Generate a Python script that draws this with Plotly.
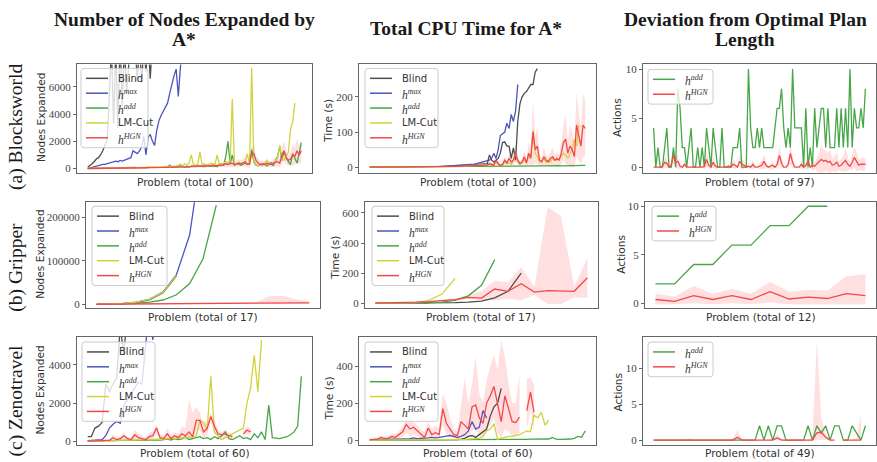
import plotly.graph_objects as go

W, H = 877, 462

# ======================= DATA =======================
# ---- Blocksworld (100 problems for nodes/time, 97 for plan length) ----
bw_nodes_blind = [100, 200, 350, 500, 700, 800, 1000, 1300, 1700, 2100,
                  5200, 9000, 3300, 8800, 3000, 9500, 4600, 9000, 5600, 9000,
                  9500, 8000, 9000, 6400, 9200, 6300, 9000, 7100, 9300, 6600, 9500]
bw_nodes_hmax = [0, 50, 80, 100, 150, 200, 250, 300, 300, 350,
                 400, 500, 500, 550, 500, 600, 550, 600, 650, 700,
                 800, 1300, 1200, 1100, 1300, 1600, 2400, 1000, 2300, 2500,
                 2000, 1700, 2800, 3500, 3900, 4200, 4500, 4800, 5500, 6200,
                 6800, 7300, 5300, 7500, 9000, 10000]
bw_nodes_hadd = [10, 15, 20, 20, 25, 30, 30, 35, 40, 40,
                 45, 40, 50, 50, 45, 55, 60, 50, 60, 70,
                 60, 70, 80, 70, 60, 80, 90, 70, 80, 100,
                 90, 80, 100, 120, 90, 100, 110, 130, 250, 100,
                 120, 100, 150, 220, 130, 110, 150, 120, 180, 140,
                 150, 200, 180, 170, 150, 250, 180, 160, 200, 190,
                 150, 250, 350, 250, 900, 2000, 300, 1000, 250, 300,
                 350, 250, 300, 400, 350, 300, 1400, 500, 250, 200,
                 300, 250, 350, 200, 300, 450, 200, 500, 900, 1600,
                 600, 1300, 800, 500, 300, 1100, 800, 400, 1100, 1900]
bw_nodes_lmcut = [5, 5, 10, 10, 15, 15, 20, 20, 20, 25,
                  25, 30, 30, 35, 35, 40, 40, 45, 50, 50,
                  55, 60, 60, 70, 70, 80, 80, 90, 90, 100,
                  100, 110, 110, 120, 130, 140, 150, 160, 170, 180,
                  150, 200, 250, 300, 200, 350, 250, 400, 1000, 300,
                  250, 300, 1200, 300, 350, 250, 300, 400, 350, 300,
                  1000, 350, 300, 400, 500, 450, 350, 5100, 400, 300,
                  450, 350, 400, 500, 1100, 300, 7400, 600, 300, 200,
                  300, 350, 400, 600, 350, 300, 400, 500, 800, 1700,
                  700, 600, 900, 1200, 2900, 3400, 4800]
bw_nodes_hgn = [5, 5, 10, 10, 10, 15, 15, 20, 20, 20,
                20, 25, 25, 30, 30, 30, 35, 35, 40, 40,
                40, 45, 45, 50, 50, 55, 55, 60, 60, 65,
                60, 70, 70, 75, 80, 80, 90, 90, 100, 95,
                100, 110, 100, 120, 130, 110, 140, 130, 150, 160,
                150, 170, 200, 160, 180, 200, 180, 220, 250, 200,
                230, 250, 220, 300, 350, 300, 400, 380, 300, 350,
                400, 350, 450, 500, 300, 350, 1200, 1100, 600, 400,
                300, 350, 300, 400, 350, 300, 400, 450, 500, 400,
                1000, 1300, 800, 600, 700, 1000, 900, 1300, 1000, 1300]
bw_nodes_hgn_std = [5, 5, 5, 5, 5, 10, 10, 10, 10, 10, 10, 10, 15, 15, 15, 15, 20, 20, 20, 20,
                    20, 20, 25, 25, 25, 25, 30, 30, 30, 30, 30, 35, 35, 35, 40, 40, 40, 45, 45, 45,
                    50, 50, 50, 60, 60, 60, 70, 70, 80, 80, 80, 90, 100, 90, 100, 110, 100, 120, 130, 110,
                    120, 150, 130, 200, 250, 200, 300, 250, 200, 250, 300, 250, 300, 350, 250, 300, 500, 450, 400, 300,
                    250, 250, 200, 300, 250, 200, 300, 350, 400, 300, 600, 700, 500, 400, 500, 800, 600, 900, 700, 800]

bw_time_blind = [0.1, 0.1, 0.1, 0.1, 0.1, 0.2, 0.2, 0.2, 0.2, 0.3,
                 0.3, 0.3, 0.4, 0.4, 0.5, 0.5, 0.6, 0.6, 0.7, 0.8,
                 0.8, 0.9, 1, 1, 1.1, 1.2, 1.3, 1.4, 1.5, 1.6,
                 1.7, 1.8, 2, 2, 2.2, 2.4, 2.6, 2.8, 3, 3.2,
                 3.5, 3.8, 4, 4.5, 5, 5.5, 6, 6.5, 7, 8,
                 8, 9, 10, 8, 10, 35, 20, 15, 20, 25,
                 40, 70, 72, 60, 60, 25, 55, 20, 130, 180,
                 200, 210, 215, 225, 235, 235, 270, 280]
bw_time_hmax = [0.1, 0.1, 0.1, 0.1, 0.1, 0.1, 0.1, 0.2, 0.2, 0.2,
                0.2, 0.2, 0.3, 0.3, 0.3, 0.4, 0.4, 0.5, 0.5, 0.6,
                0.6, 0.7, 0.8, 0.9, 1, 1, 1.2, 1.3, 1.5, 1.6,
                1.8, 2, 2.2, 2.5, 2.8, 3, 3.5, 4, 4.5, 5,
                5, 5.5, 6, 6.5, 7, 7.5, 8, 8, 9, 10,
                12, 14, 15, 17, 18, 20, 25, 40, 25, 50,
                90, 95, 100, 125, 110, 150, 130, 160, 235]
bw_time_hadd = [0.1, 0.1, 0.1, 0.1, 0.1, 0.1, 0.2, 0.2, 0.2, 0.2, 0.2, 0.3, 0.3, 0.3, 0.3, 0.4, 0.4, 0.4, 0.5, 0.5,
                0.5, 0.6, 0.6, 0.7, 0.7, 0.8, 0.8, 0.9, 1, 1, 1, 1.1, 1.2, 1.2, 1.3, 1.4, 1.5, 1.5, 1.6, 1.7,
                1.8, 1.9, 2, 2, 2.1, 2.2, 2.3, 2.4, 2.5, 2.5, 2.6, 2.7, 2.8, 2.8, 2.9, 3, 3, 3.1, 3.2, 3.3,
                3.3, 3.4, 3.5, 3, 3.6, 3.7, 3.5, 4, 3.6, 3.8, 3.5, 3.9, 4, 3.6, 3.8, 4, 3.7, 4.2, 3.8, 4,
                3.6, 4, 4.2, 3.8, 4, 3.7, 4.1, 4.3, 3.9, 4, 4.2, 3.8, 4.1, 4.5, 4, 4.2, 4.6, 4.2, 4.8, 5]
bw_time_lmcut = [0.1, 0.1, 0.1, 0.1, 0.1, 0.1, 0.1, 0.1, 0.2, 0.2, 0.2, 0.2, 0.2, 0.2, 0.3, 0.3, 0.3, 0.3, 0.3, 0.4,
                 0.4, 0.4, 0.5, 0.5, 0.5, 0.6, 0.6, 0.7, 0.7, 0.8, 0.8, 0.9, 1, 1, 1.1, 1.2, 1.3, 1.4, 1.5, 1.6,
                 1.8, 2, 2.2, 2.5, 3, 3.5, 4, 5, 6, 5, 6, 8, 7, 5, 6, 8, 7, 10, 12, 9,
                 6, 8, 15, 10, 12, 8, 20, 40, 15, 10, 12, 20, 15, 30, 35, 105, 40, 30, 15, 20,
                 25, 15, 20, 15, 25, 20, 20, 25, 30, 40, 35, 25, 40, 50, 80, 60, 120]
bw_time_hgn = [0.5, 0.5, 0.5, 0.5, 0.6, 0.6, 0.6, 0.7, 0.7, 0.7, 0.8, 0.8, 0.9, 0.9, 1, 1, 1, 1.1, 1.1, 1.2,
               1.2, 1.3, 1.3, 1.4, 1.4, 1.5, 1.5, 1.6, 1.7, 1.7, 1.8, 1.9, 2, 2, 2.1, 2.2, 2.3, 2.4, 2.5, 2.6,
               2.7, 2.8, 3, 3, 3.2, 3.4, 3.5, 3.6, 3.8, 4, 4, 5, 5, 4, 6, 10, 8, 6, 20, 10,
               5, 8, 20, 12, 25, 15, 20, 40, 20, 10, 15, 30, 12, 40, 25, 100, 50, 60, 20, 15,
               30, 20, 15, 25, 30, 20, 25, 20, 40, 70, 80, 40, 60, 50, 30, 120, 90, 60, 120, 110]
bw_time_hgn_std = [0.2, 0.2, 0.2, 0.2, 0.2, 0.3, 0.3, 0.3, 0.3, 0.3, 0.4, 0.4, 0.4, 0.4, 0.5, 0.5, 0.5, 0.5, 0.6, 0.6,
                   0.6, 0.7, 0.7, 0.7, 0.8, 0.8, 0.8, 0.9, 0.9, 1, 1, 1, 1.1, 1.1, 1.2, 1.2, 1.3, 1.3, 1.4, 1.4,
                   1.5, 1.5, 1.6, 1.7, 1.8, 1.9, 2, 2, 2.2, 2.5, 3, 3, 4, 3, 4, 6, 5, 4, 10, 6,
                   4, 6, 12, 8, 15, 10, 12, 25, 12, 8, 10, 20, 10, 30, 20, 90, 40, 50, 15, 12,
                   25, 15, 12, 20, 25, 15, 20, 15, 30, 50, 70, 35, 60, 50, 30, 90, 70, 50, 90, 80]

bw_act_hadd = [4, 0, 2, 0, 0, 2, 4, 0, 0, 2,
               0, 8, 6, 2, 2, 0, 2, 4, 0, 0,
               2, 0, 2, 0, 4, 2, 0, 4, 2, 0,
               0, 4, 0, 0, 0, 0, 2, 2, 2, 4,
               0, 0, 0, 10, 4, 2, 2, 4, 2, 4,
               2, 2, 2, 2, 2, 4, 6, 6, 8, 4,
               2, 4, 2, 10, 4, 4, 4, 4, 0, 6,
               0, 2, 0, 6, 2, 4, 6, 6, 2, 6,
               2, 2, 2, 6, 2, 6, 2, 6, 2, 10,
               2, 6, 4, 4, 6, 4, 8]
bw_act_hgn = [0, 0, 0, 0, 0.1, 0.5, 0.4, 0, 0.2, 1.2,
              0.5, 0.6, 0.1, 0, 0.3, 0, 0, 0, 0, 0,
              0, 0, 0, 0.1, 0.8, 0.2, 0, 0.5, 0.1, 0,
              0, 0, 0, 0, 0.1, 0, 0.3, 0.2, 0, 0.6,
              0.3, 0.2, 0, 0.1, 0, 0.3, 0, 0, 0.1, 0.2,
              0.6, 0.2, 0, 0.1, 0.2, 0, 0.3, 1.2, 0.4, 0,
              0, 0.3, 1.4, 0.5, 0, 0, 0, 0.3, 0, 0.2,
              0.6, 0, 0.2, 0.1, 0.3, 0.5, 0.8, 0.6, 0.7, 0.5,
              0.6, 0.2, 0.3, 0.5, 0.1, 0.2, 0.4, 0.7, 0.3, 0.1,
              0.5, 1.0, 0.6, 0.2, 0.3, 0.3, 0.3]
bw_act_hgn_std = [0, 0, 0, 0, 0.3, 0.5, 0.5, 0, 0.4, 0.8,
                  0.6, 0.7, 0.3, 0, 0.4, 0, 0, 0, 0, 0,
                  0, 0, 0, 0.3, 0.8, 0.4, 0, 0.6, 0.3, 0,
                  0, 0, 0, 0, 0.3, 0, 0.4, 0.4, 0, 0.6,
                  0.5, 0.4, 0, 0.3, 0, 0.5, 0, 0, 0.3, 0.4,
                  0.7, 0.4, 0, 0.3, 0.4, 0, 0.5, 0.9, 0.6, 0,
                  0, 0.5, 1.0, 0.7, 0, 0, 0, 0.5, 0, 0.4,
                  0.8, 0, 0.5, 0.3, 0.6, 1.0, 1.5, 1.2, 1.0, 1.0,
                  1.2, 0.6, 0.8, 1.0, 0.4, 0.6, 0.8, 1.2, 0.7, 0.3,
                  0.8, 1.0, 1.0, 0.5, 0.6, 0.7, 0.6]

# ---- Gripper (17 problems, 12 for plan length) ----
gr_nodes_blind = [100, 500, 1800, 4500, 11000, 27000, 65000]
gr_nodes_hmax = [100, 500, 2000, 5000, 12000, 29000, 68000, 160000, 370000]
gr_nodes_hadd = [50, 300, 1000, 2500, 5000, 10000, 22000, 48000, 105000, 228000]
gr_nodes_lmcut = [100, 500, 2000, 5000, 12000, 28000, 66000]
gr_nodes_hgn = [300, 500, 700, 900, 1000, 1200, 1400, 1500, 1700, 1800, 2000, 2200, 2000, 2500, 2800, 3000, 3500]
gr_nodes_hgn_lo = [100, 200, 300, 400, 500, 600, 700, 700, 800, 800, 900, 1000, 800, 1000, 1200, 1500, 2000]
gr_nodes_hgn_hi = [500, 800, 1100, 1400, 1500, 1800, 2100, 2300, 2600, 2800, 3200, 3700, 5000, 19000, 20000, 11000, 7000]

gr_time_blind = [1, 1, 1, 1.5, 2, 3, 5, 8, 15, 37, 80, 200]
gr_time_hmax = [1, 1, 1.5, 2, 3]
gr_time_hadd = [1, 1, 1.5, 2, 3, 8, 20, 50, 120, 290]
gr_time_lmcut = [1, 1.5, 2, 5, 20, 60, 165]
gr_time_hgn = [2, 3, 5, 8, 12, 18, 25, 40, 35, 95, 80, 130, 75, 85, 82, 80, 170]
gr_time_hgn_lo = [1, 2, 4, 6, 9, 14, 20, 30, 20, 20, 30, 20, 55, -5, -5, 40, 35]
gr_time_hgn_hi = [3, 4, 6, 10, 16, 24, 32, 55, 80, 150, 140, 240, 110, 640, 580, 110, 300]

gr_act_hadd = [2, 2, 4, 4, 6, 6, 8, 8, 10, 10]
gr_act_hgn = [0.4, 0.2, 0.8, 0.4, 0.8, 0.4, 1.2, 0.45, 0.65, 0.5, 1.0, 0.8]
gr_act_hgn_lo = [-0.1, -0.1, 0, -0.1, 0, -0.1, 0.1, -0.1, -0.1, -0.1, -0.1, -0.1]
gr_act_hgn_hi = [1.0, 0.7, 1.8, 1.0, 1.5, 1.0, 2.2, 1.2, 1.4, 1.3, 2.8, 3.0]

# ---- Zenotravel (60 problems, 49 for plan length) ----
zt_nodes_blind = [250, 250, 700, 800, 1000, 3000, 2600, 3000, 3300, 6000, 4500, 7000]
zt_nodes_hmax = [50, 60, 70, 80, 100, 300, 700, 900, 1050, 950,
                 1900, 2200, 2500, 2800, 3100, 3000, 5600, 7000, 5300, 8000]
zt_nodes_hadd = [20, 20, 30, 30, 30, 40, 40, 50, 50, 60,
                 60, 50, 70, 60, 80, 70, 60, 90, 80, 100,
                 70, 100, 120, 80, 150, 100, 130, 250, 100, 150,
                 200, 250, 150, 200, 100, 250, 150, 300, 500, 150,
                 100, 200, 300, 150, 200, 100, 400, 200, 500, 100,
                 1900, 200, 180, 150, 200, 250, 350, 500, 800, 3400]
zt_nodes_lmcut = [20, 20, 30, 30, 40, 40, 50, 50, 60, 60,
                  70, 70, 80, 80, 90, 90, 100, 100, 110, 120,
                  120, 130, 140, 150, 160, 170, 180, 200, 250, 220,
                  300, 1100, 1000, 600, 3400, 500, 300, 100, 200, 300,
                  400, 500, 600, 700, 2000, 2800, 4500, 2600, 5300]
zt_nodes_hgn = [20, 20, 30, 40, 50, 60, 60, 200, 100, 150,
                300, 150, 100, 350, 200, 150, 100, 250, 300, 700,
                200, 150, 400, 150, 300, 200, 400, 300, 500, 250,
                1100, 1100, 500, 700, 1300, 800, 400, 350, 400, 300,
                250, None, None, 400, 600, 500]
zt_nodes_hgn_lo = [10, 10, 10, 20, 20, 20, 20, 50, 20, 50,
                   100, 50, 20, 100, 50, 50, 20, 50, 100, 400,
                   50, 50, 100, 50, 100, 50, 100, 50, 100, 50,
                   500, 600, 200, 300, 1000, 400, 200, 200, 200, 150,
                   100, None, None, 200, 400, 300]
zt_nodes_hgn_hi = [30, 30, 50, 60, 80, 100, 100, 400, 200, 250,
                   500, 250, 200, 600, 400, 300, 200, 500, 500, 900,
                   350, 300, 700, 300, 500, 400, 800, 700, 2200, 1500,
                   1800, 1500, 900, 1100, 1500, 1200, 600, 500, 600, 450,
                   400, None, None, 600, 800, 700]

zt_time_blind = [0.5, 0.5, 0.6, 0.6, 0.7, 0.8, 0.8, 0.9, 1, 1,
                 1.1, 1.2, 1.3, 1.4, 1.5, 1.6, 1.8, 2, 2.2, 2.4,
                 2.6, 2.8, 3, 3, 3.5, 5, 10, 20, 25, 15,
                 30, 45, 60, 130, 180, 200, 280]
zt_time_hmax = [2, 2, 3, 3, 3, 4, 4, 5, 5, 6,
                6, 8, 12, 8, 8, 10, 12, 15, 12, 15,
                20, 22, 25, 20, 15, 20, 30, 50, 100, 60,
                70, 160, 120]
zt_time_hadd = [0.5, 0.5, 0.6, 0.6, 0.7, 0.7, 0.8, 0.8, 0.9, 1,
                1, 1.1, 1.2, 1.2, 1.3, 1.4, 1.5, 1.5, 1.6, 1.7,
                1.8, 1.9, 2, 2, 2.1, 2.2, 2.3, 2.4, 2.5, 2.5,
                2.6, 2.7, 2.8, 2.8, 3, 3, 3.2, 3.4, 3.5, 3.6,
                4, 4, 4.5, 4, 5, 4.5, 5, 5.5, 5, 6,
                15, 5, 4, 4, 5, 6, 10, 20, 15, 50]
zt_time_lmcut = [0.5, 0.5, 0.6, 0.6, 0.7, 0.8, 0.8, 0.9, 1, 1,
                 1.1, 1.2, 1.3, 1.4, 1.5, 1.6, 1.7, 1.8, 2, 2.2,
                 2.4, 2.6, 2.8, 3, 3.2, 3.5, 4, 5, 6, 8,
                 10, 20, 50, 60, 90, 5, 10, 15, 20, 20,
                 25, 30, 40, 50, 45, 135, 120, 150, 80, 110]
zt_time_hgn = [3, 5, 5, 15, 10, 10, 20, 15, 30, 45,
               85, 60, 70, 50, 30, 15, 65, 30, 40, 30,
               170, 90, 60, 30, 25, 100, 80, 60, 180, 190,
               120, 90, 200, 240, 290, 200, 100, 240, 170, 100,
               95, 125, None, 160, 260, 150]
zt_time_hgn_lo = [1, 2, 2, 5, 3, 3, 5, 5, 10, 20,
                  40, 20, 30, 20, 10, 5, 20, 10, 10, 10,
                  80, 30, 20, 10, 5, 20, 10, 10, 50, 60,
                  20, 20, 60, 80, 120, 40, 10, 60, 50, 20,
                  20, 40, None, 60, 160, 50]
zt_time_hgn_hi = [5, 8, 8, 25, 20, 20, 35, 30, 50, 70,
                  120, 130, 100, 80, 60, 40, 100, 60, 80, 60,
                  250, 200, 120, 60, 50, 200, 330, 200, 300, 450,
                  250, 200, 320, 400, 460, 380, 540, 450, 300, 200,
                  200, 350, None, 330, 340, 300]

zt_act_hadd = [0, 0, 0, 0, 0, 0, 0, 0, 0, 0,
               0, 0, 0, 0, 0, 0, 0, 0, 0, 0,
               0, 0, 0, 0, 2, 0, 2, 0, 2, 2,
               0, 0, 0, 0, 0, 2, 0, 2, 1, 2,
               0, 2, 2, 0, 0, 2, 1, 0, 2]
zt_act_hgn = [0, 0, 0, 0, 0, 0, 0, 0, 0, 0,
              0, 0, 0, 0, 0, 0, 0, 0, 0, 0.4,
              0, 0, 0, 0, 0, 0, 0, 0, 0.3, 0,
              0, 0, 0, 0, 0, 0, 0, 1.0, 1.1, 0.4,
              0, 0, None, 0, 0, 0, 0, 0, None]
zt_act_hgn_lo = [0, 0, 0, 0, 0, 0, 0, 0, 0, 0,
                 0, 0, 0, 0, 0, 0, 0, 0, 0, 0,
                 0, 0, 0, 0, 0, 0, 0, 0, 0, 0,
                 0, 0, 0, 0, 0, 0, 0, 0, 0, 0,
                 0, 0, None, 0, 0, 0, 0, 0, None]
zt_act_hgn_hi = [0, 0, 0, 0, 0, 0, 0, 0, 0.3, 0,
                 0, 0, 0, 0, 0, 0, 0, 0, 0.3, 1.4,
                 0.2, 0, 0, 0, 0, 0, 0, 0.2, 0.8, 0.2,
                 0, 0, 0, 0, 0, 0, 0.5, 14, 3, 0.8,
                 0, 0, None, 0, 0, 0, 0.3, 3.6, None]

# tick values and labels
col_titles = [["Number of Nodes Expanded by", "A*"], ["Total CPU Time for A*"],
              ["Deviation from Optimal Plan", "Length"]]
row_titles = ["(a) Blocksworld", "(b) Gripper", "(c) Zenotravel"]
ticks_bw = [[0, 2000, 4000, 6000], [0, 100, 200], [0, 5, 10]]
ticks_gr = [[0, 100000, 200000], [0, 200, 400, 600], [0, 5, 10]]
ticks_zt = [[0, 2000, 4000], [0, 200, 400], [0, 5, 10]]

# ======================= STYLE =======================
COLORS = {'Blind': '#4d4d4d', 'hmax': '#4b55bd', 'hadd': '#47a647',
          'LM-Cut': '#d2d23c', 'hHGN': '#f44848'}
BAND = 'rgba(255,40,40,0.15)'
LEG_TEXT = {'Blind': 'Blind', 'LM-Cut': 'LM-Cut',
            'hmax': '<i>h</i><sup><i>max</i></sup>',
            'hadd': '<i>h</i><sup><i>add</i></sup>',
            'hHGN': '<i>h</i><sup><i>HGN</i></sup>'}
SANS = 'DejaVu Sans'
SERIF = 'Liberation Serif'


def band_from_std(mean, std):
    lo = [m - s for m, s in zip(mean, std)]
    hi = [m + s for m, s in zip(mean, std)]
    return lo, hi


ALL5 = ['Blind', 'hmax', 'hadd', 'LM-Cut', 'hHGN']
TWO = ['hadd', 'hHGN']

panels = [
    dict(box=(77, 63, 312, 172), n=100, yr=(-290, 7640), ticks=ticks_bw[0],
         series={'Blind': bw_nodes_blind, 'hmax': bw_nodes_hmax, 'hadd': bw_nodes_hadd,
                 'LM-Cut': bw_nodes_lmcut, 'hHGN': bw_nodes_hgn},
         band=band_from_std(bw_nodes_hgn, bw_nodes_hgn_std),
         ylabel='Nodes Expanded', ylab=(41, 117), xlab_y=182, total=100,
         leg=(81, 67, 67), entries=ALL5),
    dict(box=(359, 63, 596, 172), n=100, yr=(-15, 292), ticks=ticks_bw[1],
         series={'Blind': bw_time_blind, 'hmax': bw_time_hmax, 'hadd': bw_time_hadd,
                 'LM-Cut': bw_time_lmcut, 'hHGN': bw_time_hgn},
         band=band_from_std(bw_time_hgn, bw_time_hgn_std),
         ylabel='Time (s)', ylab=(328, 120), xlab_y=182, total=100,
         leg=(365, 67, 73), entries=ALL5),
    dict(box=(643, 63, 876, 172), n=97, yr=(-0.54, 10.47), ticks=ticks_bw[2],
         series={'hadd': bw_act_hadd, 'hHGN': bw_act_hgn},
         band=band_from_std(bw_act_hgn, bw_act_hgn_std),
         ylabel='Actions', ylab=(617, 117), xlab_y=182, total=97,
         leg=(648, 68, 65), entries=TWO),
    dict(box=(86, 202, 320, 309), n=17, yr=(-9120, 234900), ticks=ticks_gr[0],
         series={'Blind': gr_nodes_blind, 'hmax': gr_nodes_hmax, 'hadd': gr_nodes_hadd,
                 'LM-Cut': gr_nodes_lmcut, 'hHGN': gr_nodes_hgn},
         band=(gr_nodes_hgn_lo, gr_nodes_hgn_hi),
         ylabel='Nodes Expanded', ylab=(40, 255), xlab_y=318, total=17,
         leg=(92, 206, 75), entries=ALL5),
    dict(box=(365, 202, 598, 309), n=17, yr=(-33, 671), ticks=ticks_gr[1],
         series={'Blind': gr_time_blind, 'hmax': gr_time_hmax, 'hadd': gr_time_hadd,
                 'LM-Cut': gr_time_lmcut, 'hHGN': gr_time_hgn},
         band=(gr_time_hgn_lo, gr_time_hgn_hi),
         ylabel='Time (s)', ylab=(335, 258), xlab_y=318, total=17,
         leg=(372, 206, 72), entries=ALL5),
    dict(box=(645, 202, 876, 309), n=12, yr=(-0.51, 10.41), ticks=ticks_gr[2],
         series={'hadd': gr_act_hadd, 'hHGN': gr_act_hgn},
         band=(gr_act_hgn_lo, gr_act_hgn_hi),
         ylabel='Actions', ylab=(621, 255), xlab_y=318, total=12,
         leg=(652, 206, 64), entries=TWO),
    dict(box=(77, 338, 312, 447), n=60, yr=(-190, 5450), ticks=ticks_zt[0],
         series={'Blind': zt_nodes_blind, 'hmax': zt_nodes_hmax, 'hadd': zt_nodes_hadd,
                 'LM-Cut': zt_nodes_lmcut, 'hHGN': zt_nodes_hgn},
         band=(zt_nodes_hgn_lo, zt_nodes_hgn_hi),
         ylabel='Nodes Expanded', ylab=(40, 392), xlab_y=455, total=60,
         leg=(82, 343, 73), entries=ALL5),
    dict(box=(359, 338, 596, 447), n=60, yr=(-27, 557), ticks=ticks_zt[1],
         series={'Blind': zt_time_blind, 'hmax': zt_time_hmax, 'hadd': zt_time_hadd,
                 'LM-Cut': zt_time_lmcut, 'hHGN': zt_time_hgn},
         band=(zt_time_hgn_lo, zt_time_hgn_hi),
         ylabel='Time (s)', ylab=(329, 400), xlab_y=455, total=60,
         leg=(365, 343, 73), entries=ALL5),
    dict(box=(643, 338, 876, 447), n=49, yr=(-0.7, 14.4), ticks=ticks_zt[2],
         series={'hadd': zt_act_hadd, 'hHGN': zt_act_hgn},
         band=(zt_act_hgn_lo, zt_act_hgn_hi),
         ylabel='Actions', ylab=(618, 394), xlab_y=455, total=49,
         leg=(648, 343, 65), entries=TWO),
]


def fx(x):
    return x / W


def fy(y):
    return 1 - y / H


def pad(v, n):
    return list(v) + [None] * (n - len(v))


fig = go.Figure()
layout = dict(width=W, height=H, autosize=False, margin=dict(l=0, r=0, t=0, b=0),
              paper_bgcolor='white', plot_bgcolor='white', showlegend=False)
shapes, annotations = [], []

for k, p in enumerate(panels, start=1):
    sx = '' if k == 1 else str(k)
    x0, y0, x1, y1 = p['box']
    n = p['n']
    layout['xaxis' + sx] = dict(domain=[fx(x0), fx(x1)], range=[-0.05 * (n - 1), 1.05 * (n - 1)],
                                anchor='y' + sx, showline=True, mirror=True, linecolor='#666',
                                linewidth=1.2, showticklabels=False, ticks='', showgrid=False,
                                zeroline=False, fixedrange=True)
    layout['yaxis' + sx] = dict(domain=[fy(y1), fy(y0)], range=list(p['yr']), anchor='x' + sx,
                                tickvals=p['ticks'], tickformat='d', ticks='outside', ticklen=3,
                                tickwidth=1, tickcolor='#666',
                                tickfont=dict(family=SERIF, size=11, color='#444'),
                                showline=True, mirror=True, linecolor='#666', linewidth=1.2,
                                showgrid=False, zeroline=False, fixedrange=True)
    xs = list(range(n))
    # uncertainty band of hHGN, one polygon per contiguous run
    lo, hi = pad(p['band'][0], n), pad(p['band'][1], n)
    seg = []
    runs = []
    for i in xs:
        if lo[i] is not None and hi[i] is not None:
            seg.append(i)
        else:
            if seg:
                runs.append(seg)
            seg = []
    if seg:
        runs.append(seg)
    for r in runs:
        fig.add_trace(go.Scatter(x=r + r[::-1], y=[hi[i] for i in r] + [lo[i] for i in r[::-1]],
                                 fill='toself', fillcolor=BAND, mode='lines', line=dict(width=0),
                                 hoverinfo='skip', xaxis='x' + sx, yaxis='y' + sx))
    for name in ALL5:
        if name in p['series']:
            fig.add_trace(go.Scatter(x=xs, y=pad(p['series'][name], n), mode='lines',
                                     line=dict(color=COLORS[name], width=1.3), name=name,
                                     connectgaps=False, xaxis='x' + sx, yaxis='y' + sx))
    # axis labels
    annotations.append(dict(text='Problem (total of %d)' % p['total'], x=fx((x0 + x1) / 2),
                            y=fy(p['xlab_y']), xref='paper', yref='paper', showarrow=False,
                            xanchor='center', yanchor='middle',
                            font=dict(family=SANS, size=10.6, color='#333')))
    annotations.append(dict(text=p['ylabel'], x=fx(p['ylab'][0]), y=fy(p['ylab'][1]),
                            xref='paper', yref='paper', showarrow=False, textangle=-90,
                            xanchor='center', yanchor='middle',
                            font=dict(family=SANS, size=10.6, color='#333')))
    # legend box
    lx, ly, lw = p['leg']
    ne = len(p['entries'])
    lh = 20 + 15 * (ne - 1)
    r = 3
    pts = [(lx + r, ly), (lx + lw - r, ly)]
    path = 'M %f,%f L %f,%f Q %f,%f %f,%f L %f,%f Q %f,%f %f,%f L %f,%f Q %f,%f %f,%f L %f,%f Q %f,%f %f,%f Z' % (
        fx(lx + r), fy(ly), fx(lx + lw - r), fy(ly),
        fx(lx + lw), fy(ly), fx(lx + lw), fy(ly + r),
        fx(lx + lw), fy(ly + lh - r),
        fx(lx + lw), fy(ly + lh), fx(lx + lw - r), fy(ly + lh),
        fx(lx + r), fy(ly + lh),
        fx(lx), fy(ly + lh), fx(lx), fy(ly + lh - r),
        fx(lx), fy(ly + r),
        fx(lx), fy(ly), fx(lx + r), fy(ly))
    shapes.append(dict(type='path', path=path, xref='paper', yref='paper', layer='above',
                       line=dict(color='#cccccc', width=1), fillcolor='rgba(255,255,255,0.8)'))
    for i, name in enumerate(p['entries']):
        ey = ly + 10 + 15 * i
        shapes.append(dict(type='line', xref='paper', yref='paper', layer='above',
                           x0=fx(lx + 5), x1=fx(lx + 27), y0=fy(ey), y1=fy(ey),
                           line=dict(color=COLORS[name], width=1.5)))
        serif = name.startswith('h')
        annotations.append(dict(text=LEG_TEXT[name], x=fx(lx + 35), y=fy(ey + (1 if serif else 0)),
                                xref='paper', yref='paper', showarrow=False,
                                xanchor='left', yanchor='middle',
                                font=dict(family=SERIF if serif else SANS,
                                          size=11.5 if serif else 10, color='#333')))

# column titles
title_x = [184, 466, 745]
for c, lines in enumerate(col_titles):
    ys = [18, 38] if len(lines) == 2 else [27]
    for t, yy in zip(lines, ys):
        annotations.append(dict(text='<b>%s</b>' % t, x=fx(title_x[c]), y=fy(yy), xref='paper',
                                yref='paper', showarrow=False, xanchor='center', yanchor='middle',
                                font=dict(family=SERIF, size=19.5, color='#1a1a1a')))
# row titles
row_y = [126, 268, 402]
for r_i, t in enumerate(row_titles):
    annotations.append(dict(text=t, x=fx(16), y=fy(row_y[r_i]), xref='paper', yref='paper',
                            showarrow=False, textangle=-90, xanchor='center', yanchor='middle',
                            font=dict(family=SERIF, size=19.5, color='#1a1a1a')))

layout['shapes'] = shapes
layout['annotations'] = annotations
fig.update_layout(**layout)
fig.write_html("out.html")
